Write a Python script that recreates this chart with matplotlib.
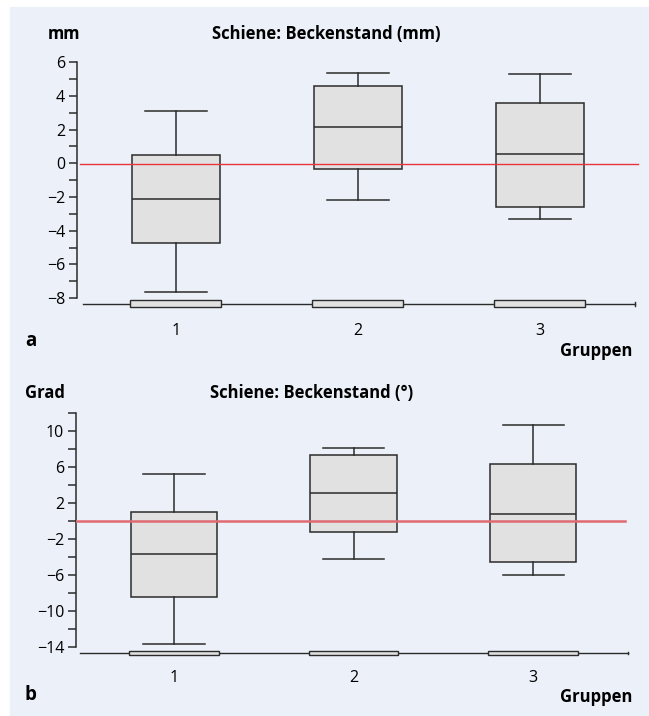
import matplotlib
matplotlib.use("Agg")
import matplotlib.pyplot as plt
from matplotlib.patches import Rectangle

plt.rcParams["font.family"] = ["Open Sans", "DejaVu Sans"]

groups = [1, 2, 3]
group_labels = ["1", "2", "3"]

# panel a: Beckenstand in mm
mm_whislo = [-7.65, -2.2, -3.32]
mm_q1 = [-4.75, -0.36, -2.61]
mm_med = [-2.1, 2.14, 0.52]
mm_q3 = [0.48, 4.58, 3.56]
mm_whishi = [3.1, 5.36, 5.32]
mm_ticks = [6, 4, 2, 0, -2, -4, -6, -8]

# panel b: Beckenstand in Grad
deg_whislo = [-13.7, -4.19, -6.0]
deg_q1 = [-8.44, -1.26, -4.56]
deg_med = [-3.63, 3.15, 0.81]
deg_q3 = [1.04, 7.4, 6.3]
deg_whishi = [5.26, 8.15, 10.63]
deg_ticks = [10, 6, 2, -2, -6, -10, -14]

BG = "#ebf0f9"
BOX_FACE = "#e1e1e1"
EDGE = "#2b2b2b"
TICK_FS = 11.5
LABEL_FS = 12

fig = plt.figure(figsize=(6.49, 7.16), dpi=100)
fig.patch.set_facecolor("white")
fig.patches.append(Rectangle((10 / 649, 0), 1, 1 - 7 / 716,
                             transform=fig.transFigure, color=BG, zorder=-10))


def panel(rect, lo, q1, med, q3, hi, ticks, minor, ylim, spine_top,
          axis_y, strip_h, xlim, xline, red, red_lw, red_span):
    ax = fig.add_axes(rect)
    ax.set_facecolor("none")
    stats = []
    for i in range(len(groups)):
        stats.append({"whislo": lo[i], "q1": q1[i], "med": med[i],
                      "q3": q3[i], "whishi": hi[i], "fliers": []})
    ax.bxp(stats, positions=groups, widths=0.48, capwidths=0.34,
           patch_artist=True, showfliers=False,
           boxprops=dict(facecolor=BOX_FACE, edgecolor=EDGE, linewidth=1.1),
           medianprops=dict(color=EDGE, linewidth=1.1),
           whiskerprops=dict(color=EDGE, linewidth=1.1),
           capprops=dict(color=EDGE, linewidth=1.1))
    # flat boxes on the group axis
    ax.bar(groups, strip_h, bottom=axis_y - strip_h / 2, width=0.5,
           color=BOX_FACE, edgecolor=EDGE, linewidth=1.0, zorder=3)
    ax.plot(xline, [axis_y, axis_y], color=EDGE, lw=1.0, zorder=2)
    ax.plot([xline[1], xline[1]], [axis_y - strip_h * 0.3, axis_y + strip_h * 0.3],
            color=EDGE, lw=1.0)
    ax.plot(red_span, [red, red], color=red_lw[1], lw=red_lw[0], zorder=5)

    ax.set_xlim(xlim)
    ax.set_ylim(ylim)
    ax.set_yticks(ticks)
    ax.set_yticklabels([str(t).replace("-", "\u2212") for t in ticks])
    ax.set_yticks(minor, minor=True)
    ax.tick_params(axis="y", which="both", direction="out", length=5.5,
                   width=1.1, color=EDGE, labelsize=TICK_FS, pad=3)
    ax.set_xticks(groups)
    ax.set_xticklabels(group_labels)
    ax.tick_params(axis="x", length=0, labelsize=TICK_FS, pad=9)
    for s in ["top", "right", "bottom"]:
        ax.spines[s].set_visible(False)
    ax.spines["left"].set_bounds(ticks[-1], spine_top)
    ax.spines["left"].set_color(EDGE)
    ax.spines["left"].set_linewidth(1.1)
    return ax


ax_a = panel([77 / 649, 1 - 310 / 716, 563 / 649, 253 / 716],
             mm_whislo, mm_q1, mm_med, mm_q3, mm_whishi, mm_ticks,
             [5, 3, 1, -1, -3, -5, -7], (-8.7, 6.3), 6,
             -8.33, 0.41, (0.456, 3.55), [0.49, 3.52],
             -0.05, (1.0, "#e8343a"), [0.472, 3.538])

ax_b = panel([76 / 649, 1 - 657 / 716, 554 / 649, 246.6 / 716],
             deg_whislo, deg_q1, deg_med, deg_q3, deg_whishi, deg_ticks,
             [12, 8, 4, 0, -4, -8, -12], (-15.1, 12.3), 12,
             -14.67, 0.42, (0.454, 3.54), [0.476, 3.53],
             0.0, (1.8, "#e06a72"), [0.454, 3.51])

# labels
fig.text(64 / 649, 1 - 34 / 716, "mm", ha="center", va="center",
         fontsize=LABEL_FS, fontweight="bold")
fig.text(326 / 649, 1 - 34 / 716, "Schiene: Beckenstand (mm)", ha="center",
         va="center", fontsize=LABEL_FS, fontweight="bold")
fig.text(25 / 649, 1 - 341 / 716, "a", ha="left", va="center",
         fontsize=13.5, fontweight="bold")
fig.text(632 / 649, 1 - 351 / 716, "Gruppen", ha="right", va="center",
         fontsize=LABEL_FS, fontweight="bold")

fig.text(25 / 649, 1 - 393 / 716, "Grad", ha="left", va="center",
         fontsize=LABEL_FS, fontweight="bold")
fig.text(312 / 649, 1 - 393 / 716, "Schiene: Beckenstand (°)", ha="center",
         va="center", fontsize=LABEL_FS, fontweight="bold")
fig.text(25 / 649, 1 - 695 / 716, "b", ha="left", va="center",
         fontsize=13.5, fontweight="bold")
fig.text(632 / 649, 1 - 697 / 716, "Gruppen", ha="right", va="center",
         fontsize=LABEL_FS, fontweight="bold")

fig.savefig("out.png", dpi=100)
